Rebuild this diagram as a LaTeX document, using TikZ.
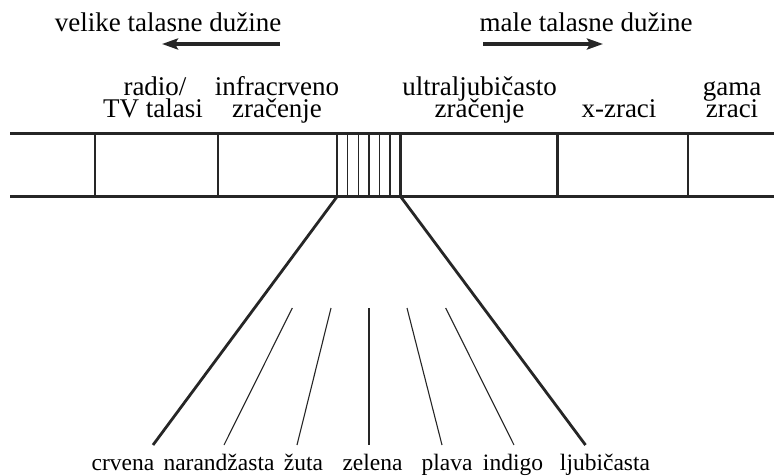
\documentclass[tikz,border=0pt]{standalone}
\usepackage{fontspec}
\setmainfont{Liberation Serif}
\usetikzlibrary{arrows.meta}
\begin{document}
\begin{tikzpicture}[x=1pt,y=-1pt,
  big/.style={font=\fontsize{27}{30}\selectfont, inner sep=0pt, anchor=base},
  small/.style={font=\fontsize{23.5}{26}\selectfont, inner sep=0pt, anchor=base},
  frame/.style={line width=2.8pt, draw=black!85},
  finer/.style={line width=1.3pt, draw=black!85},
  ray/.style={line width=2.8pt, draw=black!85},
  thinray/.style={line width=1.1pt, draw=black!85},
  dirarrow/.style={line width=3.2pt, draw=black!85, -{Stealth[length=16pt,width=11pt,inset=3pt]}}]
\useasboundingbox (0,0) rectangle (774,476);

% direction captions and arrows
\node[big] (long) at (168,32) {velike talasne dužine};
\node[big] (short) at (586,32) {male talasne dužine};
\coordinate (la1) at (280,44); \coordinate (la2) at (162,44);
\coordinate (ra1) at (483,44); \coordinate (ra2) at (603,44);
\draw[dirarrow] (la1) -- (la2);
\draw[dirarrow] (ra1) -- (ra2);

% band labels
\node[big] (radioA) at (155,96) {radio/};
\node[big] (radioB) at (153,117.5) {TV talasi};
\node[big] (irA) at (277,96) {infracrveno};
\node[big] (irB) at (277,117.5) {zračenje};
\node[big] (uvA) at (479.5,96) {ultraljubičasto};
\node[big] (uvB) at (479.5,117.5) {zračenje};
\node[big] (xr) at (619,117.5) {x-zraci};
\node[big] (gA) at (732,96) {gama};
\node[big] (gB) at (732,117.5) {zraci};

% the spectrum band
\coordinate (tl) at (10,133.5);  \coordinate (tr) at (774,133.5);
\coordinate (bl) at (10,196.7);  \coordinate (br) at (774,196.7);
\draw[frame] (tl) -- (tr);
\draw[frame] (bl) -- (br);
\foreach \x/\n in {95/a,218/b,337/c,400.7/d,557.7/e,688/f}{
  \coordinate (t\n) at (\x,133.5);
  \coordinate (b\n) at (\x,196.7);
  \draw[frame] (t\n) -- (b\n);
}
% visible part split into six strips
\foreach \i in {1,...,5}{
  \coordinate (vt\i) at ({337+\i*63.7/6},133.5);
  \coordinate (vb\i) at ({337+\i*63.7/6},196.7);
  \draw[finer] (vt\i) -- (vb\i);
}

% fan of visible colours
\coordinate (fl) at (153,445);
\coordinate (fr) at (585.5,445);
\draw[ray] (bc) -- (fl);
\draw[ray] (bd) -- (fr);
\foreach \xt/\xb/\n in {292.3/224/1,331/297/2,369/369/3,407/442/4,445.7/514/5}{
  \coordinate (st\n) at (\xt,308);
  \coordinate (sb\n) at (\xb,445);
  \draw[thinray] (st\n) -- (sb\n);
}

% colour names
\node[small] (c1) at (123,470) {crvena};
\node[small] (c2) at (219,470) {narandžasta};
\node[small] (c3) at (303.5,470) {žuta};
\node[small] (c4) at (372.5,470) {zelena};
\node[small] (c5) at (447,470) {plava};
\node[small] (c6) at (513,470) {indigo};
\node[small] (c7) at (605,470) {ljubičasta};
\end{tikzpicture}
\end{document}
